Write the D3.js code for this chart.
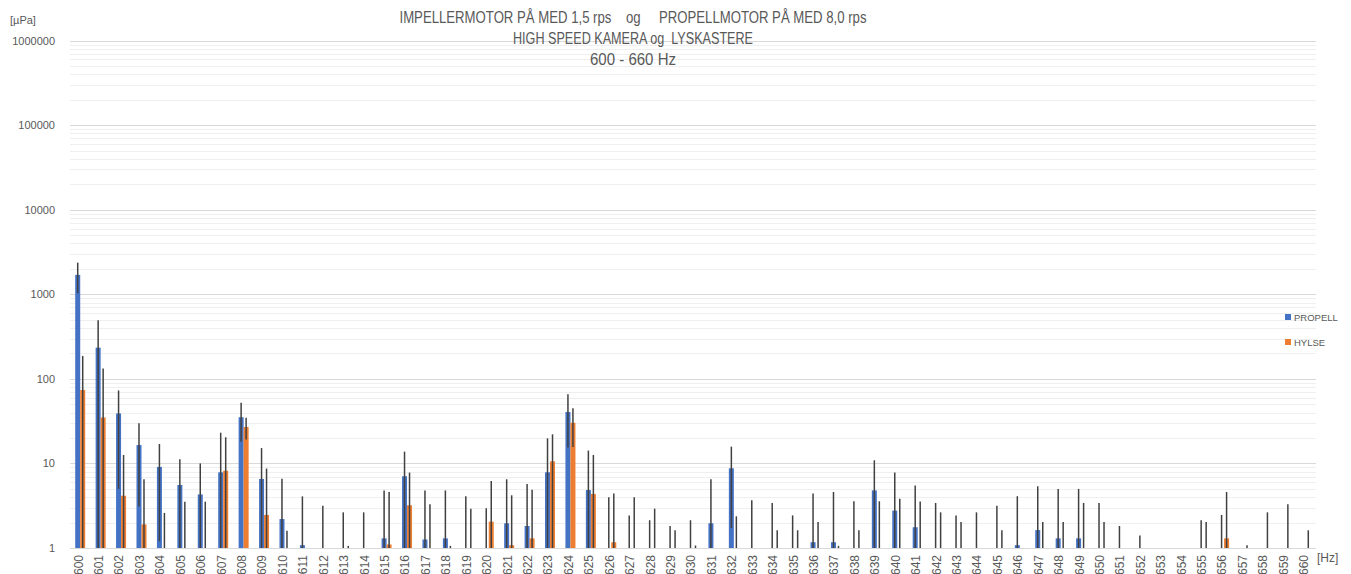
<!DOCTYPE html>
<html><head><meta charset="utf-8">
<script src="https://cdn.jsdelivr.net/npm/d3@7"></script>
<style>
html,body{margin:0;padding:0;background:#fff;}
svg{display:block;}
text{font-family:"Liberation Sans",Arial,sans-serif;fill:#595959;}
</style></head><body>
<svg id="chart" width="1351" height="574"></svg>
<script>
const categories = ["600","601","602","603","604","605","606","607","608","609","610","611","612","613","614","615","616","617","618","619","620","621","622","623","624","625","626","627","628","629","630","631","632","633","634","635","636","637","638","639","640","641","642","643","644","645","646","647","648","649","650","651","652","653","654","655","656","657","658","659","660"];
const propell    = [1700,234,39,16.5,9.1,5.56,4.3,7.85,35.2,6.55,2.2,1.08,0,0,0,1.3,7.05,1.26,1.3,0,0,1.96,1.82,7.86,40.6,4.85,0,0,0,0,0,1.96,8.76,0,0,0,1.17,1.17,0,4.8,2.77,1.76,0,0,0,0,1.08,1.63,1.3,1.3,0,0,0,0,0,0,0,0,0,0,0];
const propellErr = [670,259,34,13.4,7.9,5.64,5.7,15.25,17.1,8.65,4.4,3.0,3.16,2.64,2.64,3.5,6.75,3.54,3.5,4.09,2.95,4.54,3.88,11.94,25.2,9.35,3.98,2.43,2.13,1.82,2.13,4.54,7.04,3.66,3.41,2.43,3.23,3.43,3.57,6.1,5.03,3.74,3.41,2.43,2.64,3.16,3.02,3.74,3.7,3.7,3.41,1.82,1.41,0,0,2.13,2.46,0,0,0,0];
const hylse      = [74,35,4.15,1.9,0,0,0,8.2,27,2.46,0,0,0,0,0,1.1,3.2,0,0,0,2.05,1.08,1.3,10.6,30.3,4.35,1.17,0,0,0,0,0,0,0,0,0,0,0,0,0,0,0,0,0,0,0,0,0,0,0,0,0,0,0,0,0,1.3,0,0,0,0];
const hylseErr   = [113,98,8.45,4.6,2.6,3.53,3.53,12.2,7.8,6.24,1.6,0,0,1.06,0,3.5,4.6,3.29,1.06,2.92,4.15,3.12,3.6,11.5,14.6,8.25,3.23,3.98,2.92,1.62,1.07,0,2.37,0,1.62,1.62,2.03,1.06,1.62,3.57,3.83,3.55,2.64,2.03,0,1.62,0,2.03,2.03,3.41,2.03,0,0,0,0,2.03,3.3,1.08,2.64,3.29,1.62];
const seriesNames = ["PROPELL","HYLSE"];
const seriesColors = ["#4472C4","#ED7D31"];
const yTickValues = [1,10,100,1000,10000,100000,1000000];
const titleLines = ["IMPELLERMOTOR PÅ MED 1,5 rps    og     PROPELLMOTOR PÅ MED 8,0 rps","HIGH SPEED KAMERA og  LYSKASTERE","600 - 660 Hz"];

const svg = d3.select("#chart");
const plotLeft = 70, plotRight = 1316, plotTop = 40.7, plotBottom = 548;

const x = d3.scaleBand().domain(categories).range([plotLeft, plotRight]).paddingInner(0).paddingOuter(0);
const bw = x.bandwidth();
const x1 = d3.scaleBand().domain(seriesNames).range([bw/2 - 5, bw/2 + 5]).padding(0);
const y = d3.scaleLog().domain([1, 1e6]).range([plotBottom, plotTop]);

// gridlines
const gridVals = y.ticks();
svg.append("g").selectAll("line").data(gridVals.filter(v => !yTickValues.includes(v))).join("line")
  .attr("x1", plotLeft).attr("x2", plotRight)
  .attr("y1", d => Math.round(y(d)) + 0.5).attr("y2", d => Math.round(y(d)) + 0.5)
  .attr("stroke", "#efefef").attr("stroke-width", 1);
svg.append("g").selectAll("line").data(yTickValues).join("line")
  .attr("x1", plotLeft).attr("x2", plotRight)
  .attr("y1", d => Math.round(y(d)) + 0.5).attr("y2", d => Math.round(y(d)) + 0.5)
  .attr("stroke", "#d9d9d9").attr("stroke-width", 1);

// y axis labels
const yAxis = d3.axisLeft(y).tickValues(yTickValues).tickFormat(d3.format("d")).tickSize(0).tickPadding(0);
const gy = svg.append("g").attr("transform", `translate(${plotLeft - 15},0)`).call(yAxis);
gy.select(".domain").remove();
gy.selectAll("text").attr("font-size", 11).attr("fill", "#595959").attr("font-family", "Liberation Sans, Arial, sans-serif");

// x axis labels
const xAxis = d3.axisBottom(x).tickSize(0).tickPadding(0);
const gx = svg.append("g").attr("transform", `translate(0,${plotBottom})`).call(xAxis);
gx.select(".domain").remove();
gx.selectAll("text")
  .attr("font-size", 12).attr("fill", "#595959").attr("font-family", "Liberation Sans, Arial, sans-serif")
  .attr("text-anchor", "end").attr("transform", "rotate(-90)")
  .attr("x", -7).attr("y", 0).attr("dy", "0.2em");

// bars
const seriesVals = [propell, hylse];
const seriesErrs = [propellErr, hylseErr];
seriesNames.forEach((name, si) => {
  const data = categories.map((c, i) => ({c, v: seriesVals[si][i], e: seriesErrs[si][i]}));
  const g = svg.append("g");
  g.selectAll("rect").data(data.filter(d => d.v > 1)).join("rect")
    .attr("x", d => x(d.c) + x1(name))
    .attr("width", x1.bandwidth())
    .attr("y", d => y(d.v))
    .attr("height", d => y(1) - y(d.v))
    .attr("fill", seriesColors[si]);
  g.selectAll("line").data(data.filter(d => d.v + d.e > 1)).join("line")
    .attr("x1", d => x(d.c) + x1(name) + x1.bandwidth()/2)
    .attr("x2", d => x(d.c) + x1(name) + x1.bandwidth()/2)
    .attr("y1", d => y(Math.max(1, d.v - d.e)))
    .attr("y2", d => y(d.v + d.e))
    .attr("stroke", "#404040").attr("stroke-width", 1.5);
});

// axis units
svg.append("text").attr("x", 10).attr("y", 24).attr("font-size", 11).text("[µPa]");
svg.append("text").attr("x", 1317).attr("y", 562).attr("font-size", 12).text("[Hz]");

// title
const titleWidths = [467, 240, 86];
svg.append("g").selectAll("text").data(titleLines).join("text")
  .attr("x", 633).attr("y", (d, i) => 23 + i * 21)
  .attr("text-anchor", "middle").attr("font-size", 16)
  .attr("textLength", (d, i) => titleWidths[i]).attr("lengthAdjust", "spacingAndGlyphs")
  .style("white-space", "pre")
  .text(d => d);

// legend
const lg = svg.append("g").selectAll("g").data(seriesNames).join("g")
  .attr("transform", (d, i) => `translate(1285,${314 + i * 25})`);
lg.append("rect").attr("width", 6).attr("height", 6).attr("fill", (d, i) => seriesColors[i]);
lg.append("text").attr("x", 9).attr("y", 6.5).attr("font-size", 9.5).text(d => d);
</script>
</body></html>
